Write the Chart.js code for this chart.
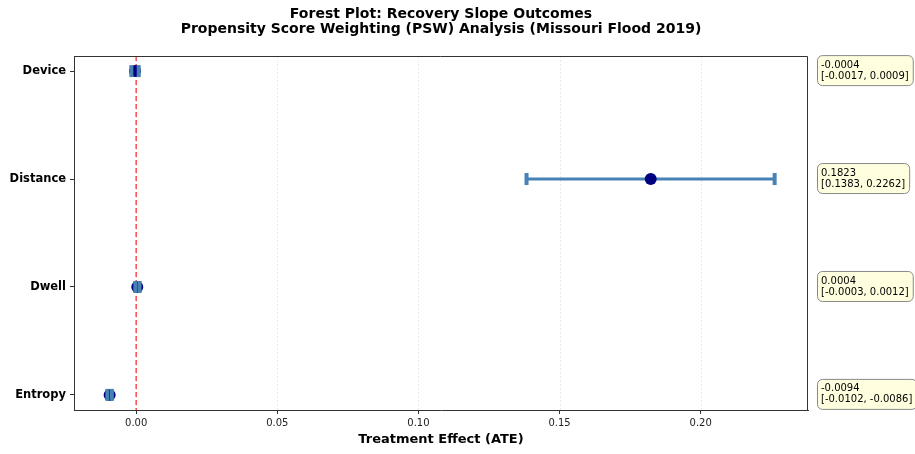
<!DOCTYPE html>
<html>
<head>
<meta charset="utf-8">
<script src="https://cdn.jsdelivr.net/npm/chart.js@4.4.1/dist/chart.umd.min.js"></script>
<style>
  html, body { margin: 0; padding: 0; background: #fff; }
  #wrap { width: 915px; height: 454px; }
</style>
</head>
<body>
<div id="wrap"><canvas id="grafico" width="915" height="454"></canvas></div>
<script>
// Datos del forest plot
const outcomes = ["Device", "Distance", "Dwell", "Entropy"];
const ate = [-0.0004, 0.1823, 0.0004, -0.0094];
const ciLower = [-0.0017, 0.1383, -0.0003, -0.0102];
const ciUpper = [0.0009, 0.2262, 0.0012, -0.0086];
const xTicks = [0, 0.05, 0.10, 0.15, 0.20];
const titleLines = [
  "Forest Plot: Recovery Slope Outcomes",
  "Propensity Score Weighting (PSW) Analysis (Missouri Flood 2019)"
];

// Limites tipo matplotlib (5% de margen)
const lo = Math.min(...ciLower), hi = Math.max(...ciUpper);
const xMin = lo - (hi - lo) * 0.05;
const xMax = hi + (hi - lo) * 0.05;

Chart.defaults.font.family = "'DejaVu Sans', sans-serif";
Chart.defaults.color = "#000";

const puntos = ate.map((v, i) => ({ x: v, y: i }));

// Plugin: titulo, grilla, linea cero, barras de error, cajas de texto
const forestPlugin = {
  id: "forest",
  beforeDatasetsDraw(chart) {
    const { ctx, chartArea: a, scales: { x, y } } = chart;
    ctx.save();
    // grilla vertical tenue
    ctx.strokeStyle = "rgba(176,176,176,0.35)";
    ctx.lineWidth = 0.8;
    ctx.setLineDash([2, 2]);
    xTicks.forEach(t => {
      const px = Math.round(x.getPixelForValue(t)) + 0.5;
      ctx.beginPath(); ctx.moveTo(px, a.top); ctx.lineTo(px, a.bottom); ctx.stroke();
    });
    // linea de referencia en cero
    ctx.strokeStyle = "rgba(255,0,0,0.7)";
    ctx.lineWidth = 1.5;
    ctx.setLineDash([5, 3]);
    const x0 = x.getPixelForValue(0);
    ctx.beginPath(); ctx.moveTo(x0, a.top); ctx.lineTo(x0, a.bottom); ctx.stroke();
    ctx.setLineDash([]);
    // lineas de intervalo
    ctx.strokeStyle = "#4682b4";
    ctx.lineWidth = 3;
    outcomes.forEach((o, i) => {
      const py = y.getPixelForValue(i);
      ctx.beginPath();
      ctx.moveTo(x.getPixelForValue(ciLower[i]), py);
      ctx.lineTo(x.getPixelForValue(ciUpper[i]), py);
      ctx.stroke();
    });
    ctx.restore();
  },
  afterDatasetsDraw(chart) {
    const { ctx, chartArea: a, scales: { x, y } } = chart;
    ctx.save();
    // topes de las barras de error
    ctx.strokeStyle = "#4682b4";
    ctx.lineWidth = 4;
    outcomes.forEach((o, i) => {
      const py = y.getPixelForValue(i);
      [ciLower[i], ciUpper[i]].forEach(v => {
        const px = x.getPixelForValue(v);
        ctx.beginPath(); ctx.moveTo(px, py - 6); ctx.lineTo(px, py + 6); ctx.stroke();
      });
    });
    // marco superior y derecho
    ctx.strokeStyle = "#333";
    ctx.lineWidth = 1;
    ctx.beginPath();
    ctx.moveTo(a.left, a.top + 0.5); ctx.lineTo(a.right - 0.5, a.top + 0.5);
    ctx.lineTo(a.right - 0.5, a.bottom);
    ctx.stroke();
    // titulo
    ctx.fillStyle = "#000";
    ctx.font = "bold 14px 'DejaVu Sans'";
    ctx.textAlign = "center";
    ctx.textBaseline = "middle";
    const cx = (a.left + a.right) / 2;
    ctx.fillText(titleLines[0], cx, 14);
    ctx.fillText(titleLines[1], cx, 29.5);
    // cajas con valores
    ctx.font = "10px 'DejaVu Sans'";
    ctx.textAlign = "left";
    outcomes.forEach((o, i) => {
      const py = y.getPixelForValue(i);
      const l1 = ate[i].toFixed(4);
      const l2 = "[" + ciLower[i].toFixed(4) + ", " + ciUpper[i].toFixed(4) + "]";
      const w = Math.max(ctx.measureText(l1).width, ctx.measureText(l2).width) + 8;
      const bx = a.right + 9.5, by = py - 15.5, h = 30;
      ctx.beginPath();
      ctx.roundRect(bx, by, w, h, 5);
      ctx.fillStyle = "#ffffe0";
      ctx.fill();
      ctx.strokeStyle = "#888";
      ctx.lineWidth = 1;
      ctx.stroke();
      ctx.fillStyle = "#000";
      ctx.fillText(l1, bx + 3.5, py - 6);
      ctx.fillText(l2, bx + 3.5, py + 5);
    });
    ctx.restore();
  }
};

new Chart(document.getElementById("grafico").getContext("2d"), {
  type: "scatter",
  data: {
    datasets: [{
      data: puntos,
      pointRadius: 6,
      pointHoverRadius: 6,
      pointBackgroundColor: "#000080",
      pointBorderColor: "#000080",
      pointBorderWidth: 0
    }]
  },
  options: {
    responsive: false,
    animation: false,
    layout: { padding: { top: 56, right: 107, left: 0, bottom: 0 } },
    plugins: { legend: { display: false }, tooltip: { enabled: false } },
    scales: {
      x: {
        type: "linear",
        min: xMin,
        max: xMax,
        afterBuildTicks: s => { s.ticks = xTicks.map(v => ({ value: v })); },
        afterFit: s => { s.height = 44; },
        ticks: { callback: v => v.toFixed(2), font: { size: 10 }, color: "#222", padding: 3, maxRotation: 0 },
        grid: { drawOnChartArea: false, drawTicks: true, tickLength: 4, tickColor: "#333" },
        border: { display: true, color: "#333", width: 1 },
        title: { display: true, text: "Treatment Effect (ATE)", font: { size: 13, weight: "bold" }, padding: { top: 2, bottom: 7 } }
      },
      y: {
        type: "linear",
        reverse: true,
        min: -0.14,
        max: outcomes.length - 1 + 0.14,
        afterBuildTicks: s => { s.ticks = outcomes.map((o, i) => ({ value: i })); },
        afterFit: s => { s.width = 74; },
        ticks: { callback: v => outcomes[v], font: { size: 11.5, weight: "bold" }, color: "#000", padding: 4 },
        grid: { drawOnChartArea: false, drawTicks: true, tickLength: 4, tickColor: "#333" },
        border: { display: true, color: "#333", width: 1 }
      }
    }
  },
  plugins: [forestPlugin]
});
</script>
</body>
</html>
